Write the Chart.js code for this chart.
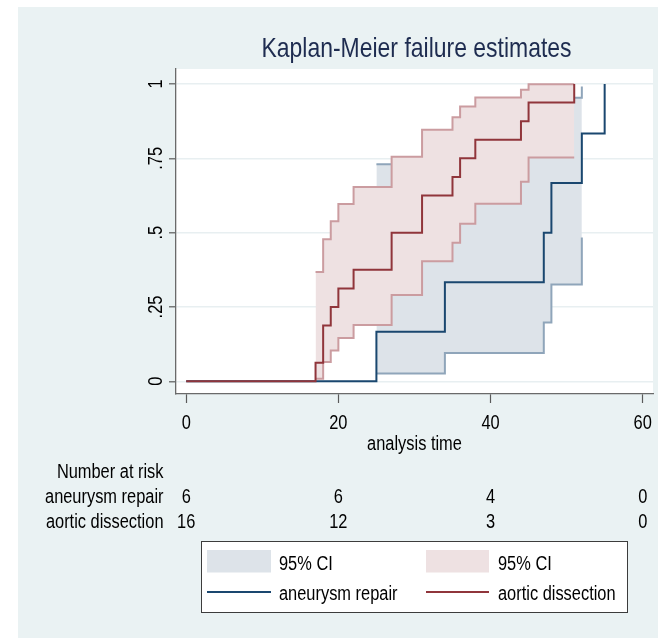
<!DOCTYPE html>
<html>
<head>
<meta charset="utf-8">
<script src="https://cdn.jsdelivr.net/npm/chart.js@4.4.1/dist/chart.umd.min.js"></script>
<style>
  html, body { margin: 0; padding: 0; background: #ffffff; }
  #wrap { width: 658px; height: 638px; }
</style>
</head>
<body>
<div id="wrap"><canvas id="c" width="658" height="638"></canvas></div>
<script>
// ---------------- data ----------------
const timeTicks = [0, 20, 40, 60];
const yTicks = [0, 0.25, 0.5, 0.75, 1];
const yTickLabels = ['0', '.25', '.5', '.75', '1'];

const groupNames = ['aneurysm repair', 'aortic dissection'];

// Kaplan-Meier failure, aneurysm repair
const aneurysmTimes = [0, 25, 34, 47, 48, 52, 55];
const aneurysmFail  = [0, 0.1667, 0.3333, 0.5, 0.6667, 0.8333, 1];
// 95% CI, aneurysm repair
const aneurysmCITimes = [25, 34, 47, 48, 52];
const aneurysmLower   = [0.026, 0.095, 0.198, 0.326, 0.484];
const aneurysmUpper   = [0.730, 0.805, 0.889, 0.954, 0.992];

// Kaplan-Meier failure, aortic dissection
const dissectionTimes = [0, 17, 18, 19, 20, 22, 27, 31, 35, 36, 38, 44, 45, 51];
const dissectionFail  = [0, 0.0625, 0.1875, 0.25, 0.3125, 0.375, 0.5, 0.625, 0.6875, 0.75, 0.8125, 0.875, 0.9375, 1];
// 95% CI, aortic dissection
const dissectionCITimes = [17, 18, 19, 20, 22, 27, 31, 35, 36, 38, 44, 45, 51];
const dissectionLower   = [0.009, 0.065, 0.104, 0.146, 0.189, 0.290, 0.404, 0.466, 0.530, 0.597, 0.671, 0.753, 0.753];
const dissectionUpper   = [0.368, 0.478, 0.538, 0.596, 0.654, 0.755, 0.846, 0.888, 0.924, 0.955, 0.981, 0.999, 0.999];

// Number at risk
const riskAneurysm   = [6, 6, 4, 0];
const riskDissection = [16, 12, 3, 0];

const chartTitle = 'Kaplan-Meier failure estimates';
const xAxisTitle = 'analysis time';
const riskHeader = 'Number at risk';

// ---------------- style ----------------
const FONT = '"Liberation Sans", Arial, "Helvetica", sans-serif';
const NARROW = 0.82; // horizontal compression to mimic a narrow face
const NAVY = '#1a476f', MAROON = '#90353b';
const NAVY_FILL = '#dde3e9', MAROON_FILL = '#eee1e2';
const NAVY_CI = '#8fa5ba', MAROON_CI = '#cb9ca0';
const BG = '#eaf2f3';

const pts = (xs, ys) => xs.map((x, i) => ({ x: x, y: ys[i] }));

const datasets = [
  { label: '95% CI', data: pts(aneurysmCITimes, aneurysmLower), borderColor: NAVY_CI, backgroundColor: NAVY_FILL, borderWidth: 2, fill: '+1', stepped: true, pointRadius: 0, order: 6 },
  { label: '95% CI upper', data: pts(aneurysmCITimes, aneurysmUpper), borderColor: NAVY_CI, backgroundColor: NAVY_FILL, borderWidth: 2, fill: false, stepped: true, pointRadius: 0, order: 5 },
  { label: '95% CI', data: pts(dissectionCITimes, dissectionLower), borderColor: MAROON_CI, backgroundColor: MAROON_FILL, borderWidth: 2, fill: '+1', stepped: true, pointRadius: 0, order: 4 },
  { label: '95% CI upper', data: pts(dissectionCITimes, dissectionUpper), borderColor: MAROON_CI, backgroundColor: MAROON_FILL, borderWidth: 2, fill: false, stepped: true, pointRadius: 0, order: 3 },
  { label: groupNames[0], data: pts(aneurysmTimes, aneurysmFail), borderColor: NAVY, backgroundColor: NAVY, borderWidth: 2, fill: false, stepped: true, pointRadius: 0, order: 2 },
  { label: groupNames[1], data: pts(dissectionTimes, dissectionFail), borderColor: MAROON, backgroundColor: MAROON, borderWidth: 2, fill: false, stepped: true, pointRadius: 0, order: 1 }
];

function txt(ctx, s, x, y, size, align, color, rot) {
  ctx.save();
  ctx.translate(x, y);
  if (rot) ctx.rotate(rot);
  ctx.scale(NARROW, 1);
  ctx.font = size + 'px ' + FONT;
  ctx.fillStyle = color;
  ctx.textAlign = align;
  ctx.textBaseline = 'alphabetic';
  ctx.fillText(s, 0, 0);
  ctx.restore();
}

const decor = {
  id: 'kmDecor',
  beforeDraw(chart) {
    const { ctx, chartArea: a } = chart;
    ctx.save();
    ctx.fillStyle = '#ffffff';
    ctx.fillRect(0, 0, chart.width, chart.height);
    ctx.fillStyle = BG;
    ctx.fillRect(18, 7, chart.width - 18, chart.height - 7);
    ctx.fillStyle = '#ffffff';
    ctx.fillRect(a.left, a.top, a.right - a.left, a.bottom - a.top);
    ctx.restore();
  },
  afterDraw(chart) {
    const { ctx, chartArea: a } = chart;
    const xs = chart.scales.x, ys = chart.scales.y;
    const mid = (a.left + a.right) / 2;
    // title
    txt(ctx, chartTitle, mid + 2, 56.5, 28, 'center', '#1e2c50');

    // y tick labels (vertical)
    yTicks.forEach((v, i) => {
      txt(ctx, yTickLabels[i], 162, ys.getPixelForValue(v), 20, 'center', '#000000', -Math.PI / 2);
    });
    // x tick labels
    timeTicks.forEach(t => {
      txt(ctx, String(t), xs.getPixelForValue(t), 428.5, 20, 'center', '#000000');
    });
    // x axis title
    txt(ctx, xAxisTitle, mid, 449.5, 20, 'center', '#000000');

    // number at risk table
    txt(ctx, riskHeader, 163.5, 478.3, 20, 'right', '#000000');
    txt(ctx, groupNames[0], 163.5, 503.3, 20, 'right', '#000000');
    txt(ctx, groupNames[1], 163.5, 527.7, 20, 'right', '#000000');
    timeTicks.forEach((t, i) => {
      const x = xs.getPixelForValue(t);
      txt(ctx, String(riskAneurysm[i]), x, 503.3, 20, 'center', '#000000');
      txt(ctx, String(riskDissection[i]), x, 527.7, 20, 'center', '#000000');
    });

    // legend
    const d = chart.data.datasets;
    ctx.save();
    ctx.fillStyle = '#ffffff';
    ctx.fillRect(201.5, 541.5, 426, 71);
    ctx.strokeStyle = '#3c3c3c';
    ctx.lineWidth = 1;
    ctx.strokeRect(201.5, 541.5, 426, 71);
    ctx.restore();
    const cols = [
      { x0: 207, x1: 271, tx: 279, fill: d[0].backgroundColor, line: d[4].borderColor, name: d[4].label, ci: d[0].label },
      { x0: 426, x1: 489, tx: 498, fill: d[2].backgroundColor, line: d[5].borderColor, name: d[5].label, ci: d[2].label }
    ];
    cols.forEach(c => {
      ctx.save();
      ctx.fillStyle = c.fill;
      ctx.fillRect(c.x0, 550, c.x1 - c.x0, 22.5);
      ctx.strokeStyle = c.line;
      ctx.lineWidth = 2;
      ctx.beginPath();
      ctx.moveTo(c.x0, 592);
      ctx.lineTo(c.x1, 592);
      ctx.stroke();
      ctx.restore();
      txt(ctx, c.ci, c.tx, 570, 20, 'left', '#000000');
      txt(ctx, c.name, c.tx, 600, 20, 'left', '#000000');
    });
  }
};

Chart.defaults.font.family = FONT;

new Chart(document.getElementById('c'), {
  type: 'line',
  data: { datasets: datasets },
  options: {
    responsive: false,
    animation: false,
    devicePixelRatio: 1,
    layout: { padding: { top: 69, right: 5, left: 0, bottom: 0 } },
    plugins: {
      legend: { display: false },
      title: { display: false },
      tooltip: { enabled: false },
      filler: { propagate: false }
    },
    elements: { line: { tension: 0 } },
    scales: {
      x: {
        type: 'linear',
        min: -1.341,
        max: 61.354,
        afterBuildTicks: s => { s.ticks = timeTicks.map(v => ({ value: v })); },
        afterFit: s => { s.height = 244; },
        ticks: { display: false, autoSkip: false },
        grid: { display: true, drawOnChartArea: false, drawTicks: true, tickLength: 9, tickColor: '#5a5a5a', tickWidth: 1.2 },
        border: { display: true, color: '#6a6a6a', width: 1.3 },
        title: { display: false }
      },
      y: {
        type: 'linear',
        min: -0.0427,
        max: 1.0505,
        afterBuildTicks: s => { s.ticks = yTicks.map(v => ({ value: v })); },
        afterFit: s => { s.width = 176; },
        ticks: { display: false },
        grid: { display: true, drawOnChartArea: true, color: '#e8eff1', lineWidth: 1.6, drawTicks: true, tickLength: 7, tickColor: '#5a5a5a', tickWidth: 1.2 },
        border: { display: true, color: '#6a6a6a', width: 1.3 }
      }
    }
  },
  plugins: [decor]
});
</script>
</body>
</html>
